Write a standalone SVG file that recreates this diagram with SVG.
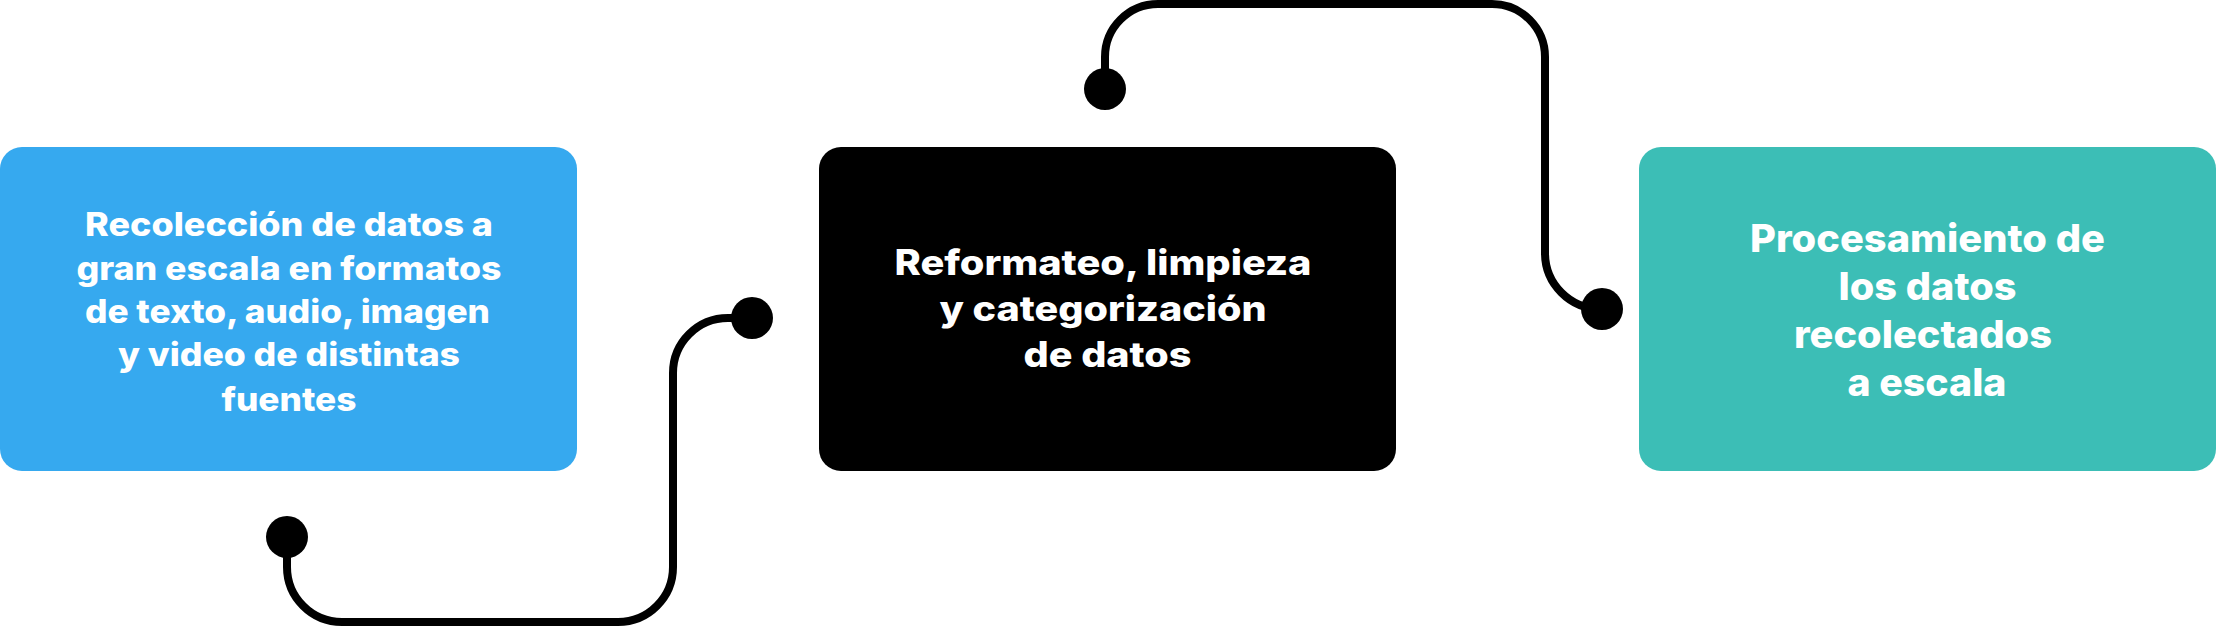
<svg xmlns="http://www.w3.org/2000/svg" width="2216" height="627" viewBox="0 0 2216 627">
  <style>
    .lbl { font-family: Inter, "Liberation Sans", sans-serif; font-weight: 800; fill: #ffffff; text-anchor: middle; }
    .s1 { font-size: 32.5px; }
    .s2 { font-size: 35px; }
    .s3 { font-size: 38px; }
    .conn { fill: none; stroke: #000000; stroke-width: 8; }
    .dot { fill: #000000; }
  </style>
  <rect width="2216" height="627" fill="#ffffff"/>
  <g id="node-recoleccion">
    <rect x="0" y="147" width="577" height="324" rx="22" fill="#36A9EF"/>
    <text class="lbl s1" x="289" y="236" textLength="408" lengthAdjust="spacingAndGlyphs">Recolección de datos a</text>
    <text class="lbl s1" x="289" y="280" textLength="425" lengthAdjust="spacingAndGlyphs">gran escala en formatos</text>
    <text class="lbl s1" x="287.5" y="323" textLength="405" lengthAdjust="spacingAndGlyphs">de texto, audio, imagen</text>
    <text class="lbl s1" x="289" y="366" textLength="342" lengthAdjust="spacingAndGlyphs">y video de distintas</text>
    <text class="lbl s1" x="289" y="411" textLength="135" lengthAdjust="spacingAndGlyphs">fuentes</text>
  </g>
  <g id="node-reformateo">
    <rect x="819" y="147" width="577" height="324" rx="22" fill="#000000"/>
    <text class="lbl s2" x="1103" y="275" textLength="417" lengthAdjust="spacingAndGlyphs">Reformateo, limpieza</text>
    <text class="lbl s2" x="1103" y="321" textLength="327" lengthAdjust="spacingAndGlyphs">y categorización</text>
    <text class="lbl s2" x="1107.5" y="367" textLength="168" lengthAdjust="spacingAndGlyphs">de datos</text>
  </g>
  <g id="node-procesamiento">
    <rect x="1639" y="147" width="577" height="324" rx="22" fill="#3CBEB6"/>
    <text class="lbl s3" x="1927.5" y="252" textLength="355" lengthAdjust="spacingAndGlyphs">Procesamiento de</text>
    <text class="lbl s3" x="1927.5" y="300" textLength="178" lengthAdjust="spacingAndGlyphs">los datos</text>
    <text class="lbl s3" x="1923" y="348" textLength="258" lengthAdjust="spacingAndGlyphs">recolectados</text>
    <text class="lbl s3" x="1927" y="396" textLength="159" lengthAdjust="spacingAndGlyphs">a escala</text>
  </g>
  <g id="connectors">
    <path class="conn" d="M287,537 V567 A55,55 0 0 0 342,622 H618 A55,55 0 0 0 673,567 V373 A55,55 0 0 1 728,318 H752"/>
    <circle class="dot" cx="287" cy="537" r="21"/>
    <circle class="dot" cx="752" cy="318" r="21"/>
    <path class="conn" d="M1105,89 V57 A53,53 0 0 1 1158,4 H1492 A53,53 0 0 1 1545,57 V253 A56,56 0 0 0 1601,309"/>
    <circle class="dot" cx="1105" cy="89" r="21"/>
    <circle class="dot" cx="1602" cy="309" r="21"/>
  </g>
</svg>
